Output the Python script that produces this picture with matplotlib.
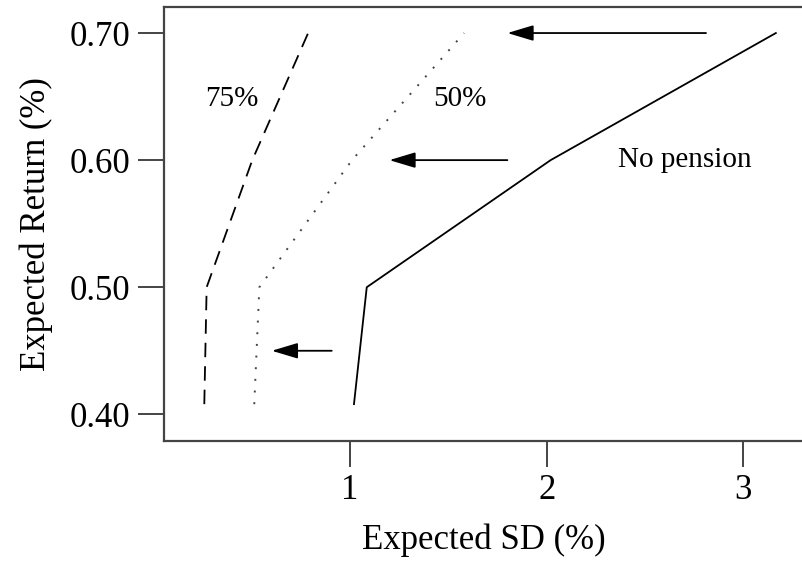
import matplotlib
matplotlib.use('Agg')
import matplotlib.pyplot as plt

# frontier data: expected SD (%) vs expected return (%)
ret = [0.408, 0.50, 0.60, 0.70]
sd_nopension = [1.02, 1.085, 2.02, 3.165]
sd_50 = [0.513, 0.539, 1.01, 1.58]
sd_75 = [0.259, 0.271, 0.503, 0.787]

# shift arrows: (start sd, end sd, return)
arrow_start = [2.81, 1.80, 0.907]
arrow_end = [1.80, 1.20, 0.602]
arrow_ret = [0.70, 0.60, 0.45]

labels = ['75%', '50%', 'No pension']
label_x = [0.40, 1.56, 2.70]
label_y = [0.648, 0.648, 0.60]

xticks = [1, 2, 3]
yticks = [0.40, 0.50, 0.60, 0.70]

plt.rcParams['font.family'] = ['Liberation Serif', 'DejaVu Serif']

fig = plt.figure(figsize=(8.03, 5.68), dpi=100)
ax = fig.add_axes([0.2042, 0.2236, 0.7958, 0.7641])

ax.plot(sd_nopension, ret, color='black', lw=1.3, linestyle='-')
ax.plot(sd_50, ret, color='#444444', lw=1.4, linestyle=(0, (1, 5)))
ax.plot(sd_75, ret, color='black', lw=1.3, linestyle=(0, (8, 5)))

for x0, x1, y in zip(arrow_start, arrow_end, arrow_ret):
  ax.annotate('', xy=(x1, y), xytext=(x0, y),
      arrowprops=dict(arrowstyle='-|>,head_length=0.8,head_width=0.24',
                      mutation_scale=20, color='black', lw=1.3,
                      shrinkA=0, shrinkB=0))

for t, x, y in zip(labels, label_x, label_y):
  ax.text(x, y, t, fontsize=21, ha='center', va='center')

ax.set_xlim(0.054, 3.303)
ax.set_ylim(0.379, 0.7205)
ax.set_xticks(xticks)
ax.set_xticklabels([str(v) for v in xticks])
ax.set_yticks(yticks)
ax.set_yticklabels(['%.2f' % v for v in yticks])

for s in ['left', 'bottom', 'top']:
  ax.spines[s].set_color('#444444')
  ax.spines[s].set_linewidth(1.6)
ax.spines['right'].set_visible(False)
ax.tick_params(direction='out', length=19, width=1.4, color='#444444',
    labelsize=25, pad=5)

ax.set_xlabel('Expected SD (%)', fontsize=25, labelpad=12)
ax.set_ylabel('Expected Return (%)', fontsize=25, labelpad=12)

plt.savefig('out.png', dpi=100)
